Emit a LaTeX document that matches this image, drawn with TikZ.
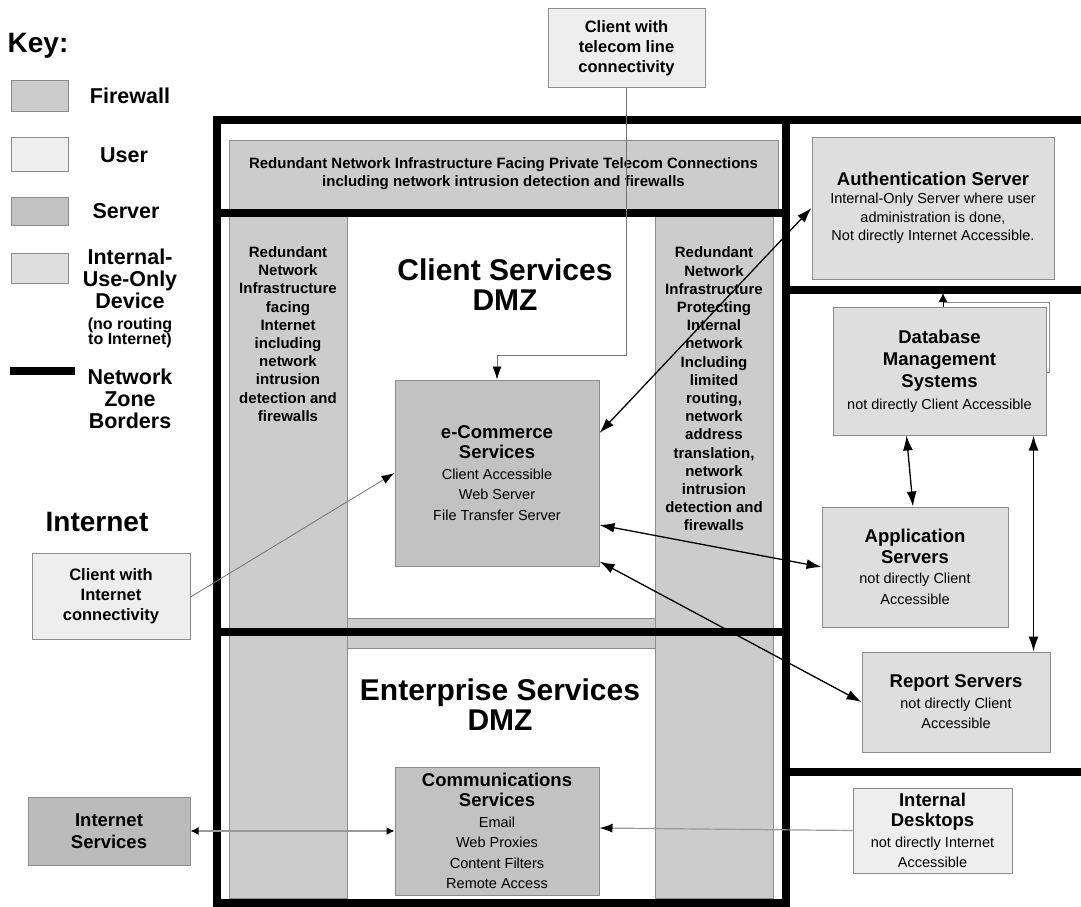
\documentclass[tikz,border=0pt]{standalone}
\usepackage{fontspec}
\setmainfont{Liberation Sans}
\usetikzlibrary{arrows.meta, positioning}

\begin{document}
\begin{tikzpicture}
% Style
[
    x=1pt, y=-1pt,
    zone border/.style={line width=8pt, line join=miter, line cap=rect},
    device/.style={draw=black!45, line width=1pt, align=center, inner sep=0pt},
    firewall/.style={device, fill=gray!40},
    user/.style={device, fill=gray!13},
    server/.style={device, fill=gray!48},
    internal/.style={device, fill=gray!26},
    label text/.style={align=center, inner sep=0pt},
    link/.style={line width=1.3pt, {Latex[length=15pt,width=10pt]}-{Latex[length=15pt,width=10pt]}},
    small link/.style={draw=black!40, line width=1.4pt, {Latex[length=8pt,width=8pt,color=black]}-{Latex[length=8pt,width=8pt,color=black]}},
    feed/.style={draw=black!55, line width=0.8pt, -{Latex[length=13pt,width=9pt,color=black]}}
]

% Define: Fonts
\newcommand{\bigfont}{\fontsize{28}{30}\selectfont\bfseries}
\newcommand{\keyfont}{\fontsize{21.5}{22}\selectfont\bfseries}
\newcommand{\titlefont}{\fontsize{30}{30}\selectfont\bfseries}
\newcommand{\headfont}{\fontsize{18.5}{22}\selectfont\bfseries}
\newcommand{\bodyfont}{\fontsize{14.5}{20.5}\selectfont}
\newcommand{\authfont}{\fontsize{14.5}{18.5}\selectfont}
\newcommand{\dbfont}{\fontsize{14.5}{22}\selectfont}
\newcommand{\barfont}{\fontsize{15}{18.2}\selectfont\bfseries}
\newcommand{\clientfont}{\fontsize{16.5}{20}\selectfont\bfseries}

%================================== Prepare ==================================
\newcommand{\devicebox}[7]{
    % Draw: box from its corners
    \node[#1, minimum width={#5-#3}, minimum height={#6-#4}] (#2) at ({(#3+#5)/2},{(#4+#6)/2}) {#7};
}

\useasboundingbox (0,0) rectangle (1081,907);

%=================================== Start ===================================
{
    % Draw: Key
    \node[label text, font=\bigfont] (keyhead) at (38,46) {Key:};
    \foreach \kind/\ytop/\ybot in {firewall/80/111, user/137/171, server/197/225, internal/253/283} {
        \draw[\kind] (11,\ytop) rectangle (68,\ybot);
    }
    \node[label text, font=\keyfont] (keyfirewall) at (130,96) {Firewall};
    \node[label text, font=\keyfont] (keyuser) at (124,155) {User};
    \node[label text, font=\keyfont] (keyserver) at (126,211) {Server};
    \node[label text, font=\keyfont] (keyinternal) at (130,298) {Internal-\\Use-Only\\Device\\[-1pt]{\fontsize{16}{16}\selectfont (no routing}\\[-7pt]{\fontsize{16}{16}\selectfont to Internet)}};
    \draw[zone border] (14,371) -- (71,371);
    \node[label text, font=\keyfont] (keyzone) at (130,399) {Network\\Zone\\Borders};

    \node[label text, font=\bigfont] (internetlabel) at (97,522) {Internet};

    % Draw: Firewalls
    \draw[firewall] (229,140) rectangle (778,215);
    \draw[firewall] (229,213) rectangle (347,898);
    \draw[firewall] (655,213) rectangle (773,898);
    \draw[firewall] (347,618) rectangle (655,648);
    \node[label text, font=\barfont] (telecombar) at (503.5,174) {Redundant Network Infrastructure Facing Private Telecom Connections\\including network intrusion detection and firewalls};
    \node[label text, font=\barfont] (internetbar) at (288,334) {Redundant\\Network\\Infrastructure\\facing\\Internet\\including\\network\\intrusion\\detection and\\firewalls};
    \node[label text, font=\barfont] (internalbar) at (714,389) {Redundant\\Network\\Infrastructure\\Protecting\\Internal\\network\\Including\\limited\\routing,\\network\\address\\translation,\\network\\intrusion\\detection and\\firewalls};

    % Draw: Zones
    \draw[zone border] (1081,120) -- (217,120) -- (217,903) -- (786,903);
    \draw[zone border] (786,120) -- (786,903);
    \draw[zone border] (217,213) -- (786,213);
    \draw[zone border] (217,632) -- (786,632);
    \draw[zone border] (786,290) -- (1081,290);
    \draw[zone border] (786,772) -- (1081,772);

    \node[label text, font=\titlefont] (clientdmz) at (505,285) {Client Services\\DMZ};
    \node[label text, font=\titlefont] (enterprisedmz) at (500,705) {Enterprise Services\\DMZ};

    % Draw: Devices
    \draw[draw=black!45, fill=white, line width=1pt] (943,302) rectangle (1049,372);
    \devicebox{user, font=\clientfont}{telecom}{548}{9}{705}{87}{Client with\\telecom line\\connectivity}
    \devicebox{server, font=\bodyfont}{ecommerce}{395}{380}{599}{566}{{\headfont e-Commerce}\\{\headfont Services}\\Client Accessible\\Web Server\\File Transfer Server}
    \devicebox{user, font=\clientfont}{internetclient}{32}{553}{190}{639}{Client with\\Internet\\connectivity}
    \devicebox{internal, font=\authfont}{auth}{812}{137}{1054}{279}{{\headfont Authentication Server}\\Internal-Only Server where user\\administration is done,\\Not directly Internet Accessible.}
    \devicebox{internal, font=\dbfont}{dbms}{833}{307}{1046}{435}{{\headfont Database}\\{\headfont Management}\\{\headfont Systems}\\not directly Client Accessible}
    \devicebox{internal, font=\bodyfont}{appservers}{822}{507}{1008}{627}{{\headfont Application}\\{\headfont Servers}\\not directly Client\\Accessible}
    \devicebox{internal, font=\bodyfont}{reportservers}{862}{652}{1050}{752}{{\headfont Report Servers}\\not directly Client\\Accessible}
    \devicebox{server, font=\bodyfont}{communications}{395}{767}{599}{895}{{\headfont Communications}\\{\headfont Services}\\Email\\Web Proxies\\Content Filters\\Remote Access}
    \devicebox{server, fill=gray!53, font=\headfont}{internetservices}{28}{797}{190}{865}{Internet\\Services}
    \devicebox{user, font=\bodyfont}{desktops}{853}{788}{1012}{873}{{\headfont Internal}\\{\headfont Desktops}\\not directly Internet\\Accessible}

    % Draw: Links
    \coordinate (telecombend) at (626.5,355);
    \coordinate (dbtip) at (943,293);
    \draw[feed] (telecom.south) -- (telecombend) -| (ecommerce.north);
    \draw[feed] ([yshift=-1pt]internetclient.east) -- (ecommerce.west);
    \draw[link] ([yshift=40pt]ecommerce.east) -- (auth.west);
    \draw[link] ([yshift=-52pt]ecommerce.east) -- (appservers.west);
    \draw[link] ([yshift=5pt]ecommerce.south east) -- (reportservers.west);
    \draw[link] ([xshift=-33pt]dbms.south) -- ([xshift=-2pt]appservers.north);
    \draw[link] ([xshift=-13pt]dbms.south east) -- ([xshift=-17pt]reportservers.north east);
    \draw[small link] (internetservices.east) -- (communications.west);
    \draw[feed, draw=black!40, line width=1.2pt] (desktops.west) -- ([yshift=3pt]communications.east);
    \draw[line width=0.8pt, -{Latex[length=9pt,width=9pt]}] (dbms.north -| dbtip) -- (dbtip);
}
%==================================== END ====================================

\end{tikzpicture}
\end{document}
